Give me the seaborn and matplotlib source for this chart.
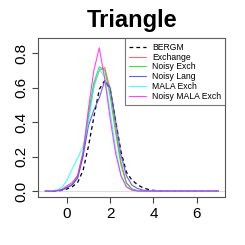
import numpy as np
import pandas as pd
import matplotlib
matplotlib.use("Agg")
import matplotlib.pyplot as plt
import seaborn as sns

# density curves
x = [-1, -0.75, -0.5, -0.25, 0, 0.25, 0.5, 0.75, 1.0, 1.25, 1.5, 1.75,
     2.0, 2.25, 2.5, 2.75, 3.0, 3.25, 3.5, 3.75, 4.0, 4.5, 5, 7]

bergm = [0, 0, 0.001, 0.004, 0.012, 0.025, 0.05, 0.12, 0.26, 0.43, 0.59, 0.64,
         0.59, 0.41, 0.23, 0.11, 0.065, 0.038, 0.02, 0.01, 0.004, 0.001, 0, 0]
exchange = [0, 0, 0.002, 0.006, 0.02, 0.04, 0.08, 0.21, 0.43, 0.61, 0.70, 0.715,
            0.59, 0.37, 0.17, 0.05, 0.012, 0.003, 0, 0, 0, 0, 0, 0]
noisy_exch = [0, 0, 0.002, 0.006, 0.02, 0.04, 0.09, 0.23, 0.45, 0.63, 0.72, 0.70,
              0.55, 0.34, 0.15, 0.045, 0.012, 0.003, 0, 0, 0, 0, 0, 0]
noisy_lang = [0, 0, 0.002, 0.006, 0.02, 0.035, 0.075, 0.2, 0.38, 0.47, 0.54, 0.64,
              0.6, 0.41, 0.21, 0.09, 0.035, 0.016, 0.006, 0.002, 0, 0, 0, 0]
mala_exch = [0, 0.002, 0.006, 0.018, 0.06, 0.13, 0.19, 0.26, 0.40, 0.6, 0.71, 0.66,
             0.46, 0.25, 0.09, 0.025, 0.006, 0.001, 0, 0, 0, 0, 0, 0]
noisy_mala = [0, 0, 0.002, 0.008, 0.03, 0.05, 0.09, 0.22, 0.48, 0.70, 0.83, 0.65,
              0.42, 0.22, 0.09, 0.025, 0.006, 0.001, 0, 0, 0, 0, 0, 0]

labels = ["BERGM", "Exchange", "Noisy Exch", "Noisy Lang", "MALA Exch", "Noisy MALA Exch"]
series = [bergm, exchange, noisy_exch, noisy_lang, mala_exch, noisy_mala]
colors = ["black", "#ff5050", "#22dd22", "#4444ff", "#22ffff", "#ff22ff"]

sns.set_theme(style="ticks")
plt.rcParams["font.family"] = ["Liberation Sans", "DejaVu Sans"]
plt.rcParams["text.color"] = "black"
plt.rcParams["xtick.color"] = "black"
plt.rcParams["ytick.color"] = "black"
plt.rcParams["axes.titlecolor"] = "black"

fig = plt.figure(figsize=(2.45, 2.45), dpi=100)
ax = fig.add_axes([0.156, 0.196, 0.764, 0.647])

ax.axhline(0, color="#dddddd", lw=0.8, zorder=0)
for lab, ys, c in zip(labels, series, colors):
    if lab == "BERGM":
        sns.lineplot(x=x, y=ys, color=c, ls=(0, (3, 2.5)), lw=0.9, label=lab, ax=ax)
    else:
        sns.lineplot(x=x, y=ys, color=c, lw=0.8, alpha=0.85, label=lab, ax=ax)

ax.set_xlim(-1.32, 7.32)
ax.set_ylim(-0.034, 0.884)
ax.set_xticks([0, 2, 4, 6])
ax.set_yticks([0, 0.2, 0.4, 0.6, 0.8])
ax.set_yticklabels(["0.0", "0.2", "0.4", "0.6", "0.8"], rotation=90, va="center")
ax.tick_params(direction="out", length=4, width=0.8, labelsize=11, pad=3)
ax.tick_params(colors="#444444", labelcolor="black")
for s in ax.spines.values():
    s.set_visible(True)
    s.set_color("#555555")
    s.set_linewidth(0.8)

ax.set_title("Triangle", fontsize=17, fontweight="bold", pad=8, color="black")

leg = ax.legend(loc="upper right", bbox_to_anchor=(1, 1), borderaxespad=0,
                fontsize=6.2, frameon=True, fancybox=False, handlelength=1.9,
                labelspacing=0.1, handletextpad=0.75, borderpad=0.5)
leg.get_frame().set_edgecolor("#555555")
leg.get_frame().set_linewidth(0.8)
for t in leg.get_texts():
    t.set_color("black")

fig.savefig("out.png", dpi=100, facecolor="white")
